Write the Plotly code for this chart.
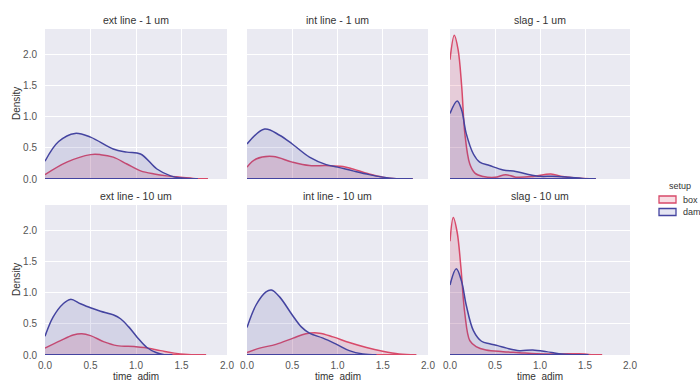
import plotly.graph_objects as go

# ---------------- data ----------------
panel_titles = ["ext line - 1 um", "int line - 1 um", "slag - 1 um",
                "ext line - 10 um", "int line - 10 um", "slag - 10 um"]
setups = ["box", "dam"]
x_ticks = [0.0, 0.5, 1.0, 1.5, 2.0]
y_ticks = [0.0, 0.5, 1.0, 1.5, 2.0]
x_label = "time  adim"
y_label = "Density"
legend_title = "setup"

ext1_box_x = [0.0, 0.24, 0.5, 0.61, 0.75, 0.9, 1.05, 1.2, 1.34, 1.49, 1.68, 1.79]
ext1_box_y = [0.07, 0.27, 0.39, 0.39, 0.35, 0.24, 0.13, 0.08, 0.05, 0.03, 0.005, 0.0]
ext1_dam_x = [0.0, 0.15, 0.33, 0.5, 0.75, 0.9, 1.05, 1.23, 1.38, 1.5, 1.68]
ext1_dam_y = [0.285, 0.6, 0.73, 0.67, 0.48, 0.43, 0.40, 0.16, 0.05, 0.015, 0.0]

int1_box_x = [0.0, 0.1, 0.29, 0.5, 0.69, 0.875, 1.06, 1.17, 1.35, 1.5, 1.65, 1.83]
int1_box_y = [0.19, 0.32, 0.36, 0.27, 0.215, 0.215, 0.2, 0.16, 0.08, 0.03, 0.005, 0.0]
int1_dam_x = [0.0, 0.195, 0.36, 0.5, 0.69, 0.875, 1.0, 1.17, 1.35, 1.5, 1.65, 1.83]
int1_dam_y = [0.56, 0.80, 0.70, 0.56, 0.35, 0.23, 0.19, 0.13, 0.07, 0.03, 0.005, 0.0]

slag1_box_x = [0.0, 0.048, 0.09, 0.13, 0.165, 0.22, 0.28, 0.37, 0.5, 0.62, 0.73, 0.92, 1.12, 1.25, 1.4, 1.62]
slag1_box_y = [1.91, 2.30, 2.07, 1.48, 0.73, 0.24, 0.09, 0.04, 0.027, 0.07, 0.03, 0.04, 0.08, 0.04, 0.015, 0.0]
slag1_dam_x = [0.0, 0.08, 0.13, 0.18, 0.26, 0.33, 0.44, 0.59, 0.73, 0.85, 1.0, 1.14, 1.32, 1.47, 1.62]
slag1_dam_y = [1.05, 1.25, 1.10, 0.73, 0.40, 0.27, 0.215, 0.145, 0.12, 0.08, 0.043, 0.043, 0.027, 0.01, 0.0]

ext10_box_x = [0.0, 0.17, 0.31, 0.405, 0.5, 0.65, 0.79, 0.98, 1.09, 1.27, 1.42, 1.57, 1.77]
ext10_box_y = [0.11, 0.23, 0.32, 0.34, 0.31, 0.21, 0.15, 0.135, 0.12, 0.07, 0.03, 0.01, 0.0]
ext10_dam_x = [0.0, 0.09, 0.2, 0.28, 0.39, 0.5, 0.61, 0.755, 0.83, 0.92, 1.01, 1.12, 1.22, 1.31, 1.4]
ext10_dam_y = [0.30, 0.61, 0.82, 0.89, 0.82, 0.755, 0.70, 0.64, 0.58, 0.45, 0.29, 0.12, 0.04, 0.005, 0.0]

int10_box_x = [0.0, 0.14, 0.32, 0.51, 0.65, 0.8, 0.95, 1.13, 1.32, 1.5, 1.68, 1.87]
int10_box_y = [0.04, 0.11, 0.17, 0.27, 0.34, 0.35, 0.29, 0.20, 0.12, 0.06, 0.016, 0.0]
int10_dam_x = [0.0, 0.1, 0.21, 0.27, 0.36, 0.5, 0.6, 0.69, 0.84, 0.99, 1.13, 1.28, 1.43]
int10_dam_y = [0.44, 0.80, 1.01, 1.04, 0.93, 0.64, 0.45, 0.35, 0.27, 0.17, 0.07, 0.016, 0.0]

slag10_box_x = [0.0, 0.037, 0.08, 0.12, 0.165, 0.22, 0.29, 0.40, 0.59, 0.77, 0.96, 1.21, 1.43, 1.54, 1.69]
slag10_box_y = [1.82, 2.20, 1.96, 1.42, 0.66, 0.23, 0.135, 0.08, 0.054, 0.038, 0.02, 0.016, 0.02, 0.01, 0.0]
slag10_dam_x = [0.0, 0.07, 0.13, 0.18, 0.26, 0.35, 0.44, 0.53, 0.63, 0.77, 0.92, 1.07, 1.21, 1.36, 1.54]
slag10_dam_y = [1.12, 1.38, 1.17, 0.80, 0.39, 0.22, 0.18, 0.15, 0.11, 0.07, 0.08, 0.054, 0.02, 0.005, 0.0]

panel_data = [
    {"box": (ext1_box_x, ext1_box_y), "dam": (ext1_dam_x, ext1_dam_y)},
    {"box": (int1_box_x, int1_box_y), "dam": (int1_dam_x, int1_dam_y)},
    {"box": (slag1_box_x, slag1_box_y), "dam": (slag1_dam_x, slag1_dam_y)},
    {"box": (ext10_box_x, ext10_box_y), "dam": (ext10_dam_x, ext10_dam_y)},
    {"box": (int10_box_x, int10_box_y), "dam": (int10_dam_x, int10_dam_y)},
    {"box": (slag10_box_x, slag10_box_y), "dam": (slag10_dam_x, slag10_dam_y)},
]

# ---------------- styling ----------------
W, H = 700, 381
L, R, T, B = 45, 70, 29, 26
PW, PH = W - L - R, H - T - B

def px_x(p):
    return (p - L) / PW

def px_y(p):
    return (H - B - p) / PH

col_px = [(45, 227), (247, 428), (450, 630)]
row_px = [(29, 179), (205, 355)]

line_col = {"box": "#d84a6a", "dam": "#4444a0"}
fill_col = {"box": "rgba(216,74,106,0.18)", "dam": "rgba(68,68,160,0.14)"}
BG = "#eaeaf2"
TXT = "#333333"
TICK = "#555555"
FONT = "Liberation Sans, Arial, sans-serif"

fig = go.Figure()
layout = dict(width=W, height=H, margin=dict(l=L, r=R, t=T, b=B, autoexpand=False),
              paper_bgcolor="white", plot_bgcolor=BG, showlegend=False,
              font=dict(family=FONT, size=10, color=TXT))
annotations = []
shapes = []

for i, title in enumerate(panel_titles):
    r, c = divmod(i, 3)
    n = i + 1
    xa = "xaxis" if n == 1 else f"xaxis{n}"
    ya = "yaxis" if n == 1 else f"yaxis{n}"
    xr = "x" if n == 1 else f"x{n}"
    yr = "y" if n == 1 else f"y{n}"
    x0, x1 = col_px[c]
    y0, y1 = row_px[r]
    layout[xa] = dict(domain=[px_x(x0), px_x(x1)], range=[0, 2.0], anchor=yr,
                      tickvals=x_ticks, ticktext=[f"{v:.1f}" for v in x_ticks],
                      showticklabels=(r == 1), showgrid=True, gridcolor="white",
                      gridwidth=1, zeroline=False, showline=False, ticks="",
                      ticklabelstandoff=3, automargin=False,
                      tickfont=dict(size=10, color=TICK, family=FONT))
    layout[ya] = dict(domain=[px_y(y1), px_y(y0)], range=[0, 2.4], anchor=xr,
                      tickvals=y_ticks, ticktext=[f"{v:.1f}" for v in y_ticks],
                      showticklabels=(c == 0), showgrid=True, gridcolor="white",
                      gridwidth=1, zeroline=False, showline=False, ticks="",
                      ticklabelstandoff=7, automargin=False,
                      tickfont=dict(size=10, color=TICK, family=FONT))
    if r == 1:
        annotations.append(dict(text=x_label, xref="paper", yref="paper",
                                x=px_x((x0 + x1) / 2), y=px_y(376), xanchor="center",
                                yanchor="middle", showarrow=False,
                                font=dict(size=10, color=TXT, family=FONT)))
    if c == 0:
        annotations.append(dict(text=y_label, xref="paper", yref="paper",
                                x=px_x(16), y=px_y((y0 + y1) / 2), xanchor="center",
                                yanchor="middle", showarrow=False, textangle=-90,
                                font=dict(size=10, color=TXT, family=FONT)))

    annotations.append(dict(text=title, xref="paper", yref="paper",
                            x=px_x((x0 + x1) / 2), y=px_y(y0 - 9), yanchor="middle",
                            xanchor="center", showarrow=False,
                            font=dict(size=10.5, color=TXT, family=FONT)))

    for s in setups:
        xs, ys = panel_data[i][s]
        fig.add_trace(go.Scatter(x=xs, y=ys, mode="lines", xaxis=xr, yaxis=yr,
                                 line=dict(color=line_col[s], width=1.5, shape="spline", smoothing=1.0),
                                 fill="tozeroy", fillcolor=fill_col[s], name=s,
                                 hoverinfo="skip"))
    for s in setups:
        xs, ys = panel_data[i][s]
        fig.add_trace(go.Scatter(x=[xs[0], xs[-1]], y=[0, 0], mode="lines",
                                 xaxis=xr, yaxis=yr,
                                 line=dict(color=line_col[s], width=2),
                                 hoverinfo="skip"))

# legend (manual, like seaborn's figure legend)
annotations.append(dict(text=legend_title, xref="paper", yref="paper",
                        x=px_x(680), y=px_y(186), xanchor="center", yanchor="middle",
                        showarrow=False, font=dict(size=9, color=TXT, family=FONT)))
leg_y = {"box": 199.5, "dam": 212}
for s in setups:
    yc = leg_y[s]
    shapes.append(dict(type="rect", xref="paper", yref="paper",
                       x0=px_x(659), x1=px_x(676), y0=px_y(yc + 3.5), y1=px_y(yc - 3.5),
                       line=dict(color=line_col[s], width=1.3), fillcolor=fill_col[s]))
    annotations.append(dict(text=s, xref="paper", yref="paper",
                            x=px_x(681), y=px_y(yc), xanchor="left", yanchor="middle",
                            showarrow=False, font=dict(size=9, color=TXT, family=FONT)))

layout["annotations"] = annotations
layout["shapes"] = shapes
fig.update_layout(**layout)
fig.write_html("out.html")
